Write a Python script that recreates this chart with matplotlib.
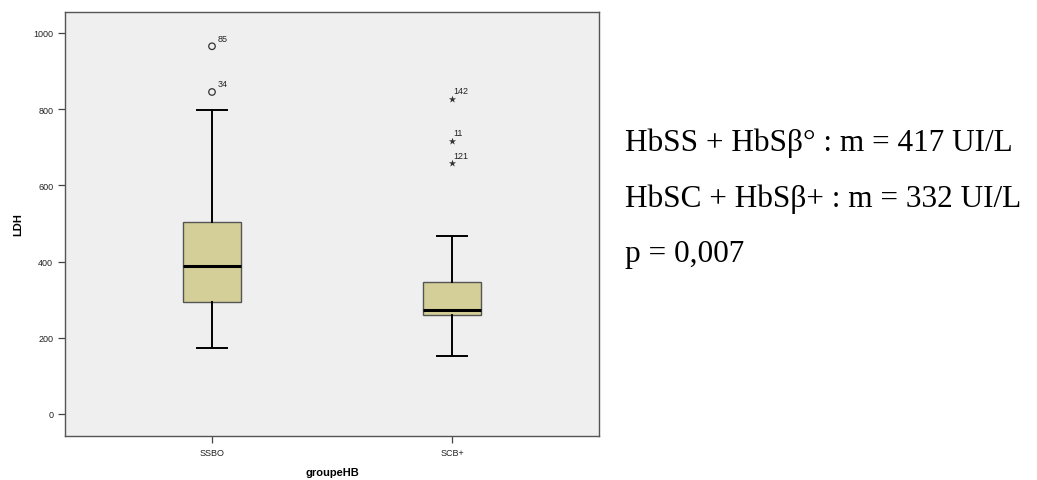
import matplotlib.pyplot as plt
import numpy as np

# valeurs (LDH, UI/L)
groupes = ['SSBO', 'SCB+']
q1 = [293, 259]
mediane = [387, 273]
q3 = [504, 345]
moustache_bas = [174, 153]
moustache_haut = [799, 468]

# valeurs extrêmes (cercles) et extrêmes lointaines (étoiles)
outliers_ssbo = [965, 845]
outliers_ssbo_id = ['85', '34']
extremes_scb = [827, 717, 658]
extremes_scb_id = ['142', '11', '121']

stats_txt = ['HbSS + HbSβ° : m = 417 UI/L',
             'HbSC + HbSβ+ : m = 332 UI/L',
             'p = 0,007']

fig = plt.figure(figsize=(10.37, 4.81), dpi=100)
ax = fig.add_axes([0.0627, 0.0915, 0.5149, 0.8815])
ax.set_facecolor('#EFEFEF')

stats = []
for i, g in enumerate(groupes):
    stats.append({'label': g, 'q1': q1[i], 'med': mediane[i], 'q3': q3[i],
                  'whislo': moustache_bas[i], 'whishi': moustache_haut[i], 'fliers': []})

pos = [1, 2]
ax.bxp(stats, positions=pos, widths=0.245, patch_artist=True, showfliers=False,
       boxprops=dict(facecolor='#D4CF98', edgecolor='#555555', linewidth=1.0),
       medianprops=dict(color='black', linewidth=2.2),
       whiskerprops=dict(color='black', linewidth=1.4),
       capprops=dict(color='black', linewidth=1.4),
       capwidths=0.125)

ax.scatter([pos[0]] * len(outliers_ssbo), outliers_ssbo, marker='o', s=22,
           facecolors='none', edgecolors='#333333', linewidths=0.9, zorder=3)
for v, lab in zip(outliers_ssbo, outliers_ssbo_id):
    ax.annotate(lab, (pos[0], v), xytext=(4, 4), textcoords='offset points',
                fontsize=6.5, family='Liberation Sans', color='#222222')

ax.scatter([pos[1]] * len(extremes_scb), extremes_scb, marker='*', s=30,
           color='#333333', linewidths=0, zorder=3)
for v, lab in zip(extremes_scb, extremes_scb_id):
    ax.annotate(lab, (pos[1], v), xytext=(1, 4), textcoords='offset points',
                fontsize=6.5, family='Liberation Sans', color='#222222')

ax.set_xlim(0.3875, 2.6125)
ax.set_ylim(-58, 1055)
ax.set_yticks([0, 200, 400, 600, 800, 1000])
ax.set_xticks(pos)
ax.set_xticklabels(groupes)
ax.tick_params(labelsize=6.5, length=5, width=0.9, color='#444444', labelcolor='#222222')
for lbl in ax.get_xticklabels() + ax.get_yticklabels():
    lbl.set_family('Liberation Sans')
for sp in ax.spines.values():
    sp.set_color('#555555')
    sp.set_linewidth(1.0)

ax.set_ylabel('LDH', fontsize=8, fontweight='bold', family='Liberation Sans', labelpad=7)
ax.set_xlabel('groupeHB', fontsize=8, fontweight='bold', family='Liberation Sans', labelpad=7)

for k, t in enumerate(stats_txt):
    fig.text(0.6025, 1 - (143 + 56 * k) / 481, t, fontsize=22.5, family='Liberation Serif',
             va='center', ha='left', color='black')

fig.savefig('out.png', dpi=100)
